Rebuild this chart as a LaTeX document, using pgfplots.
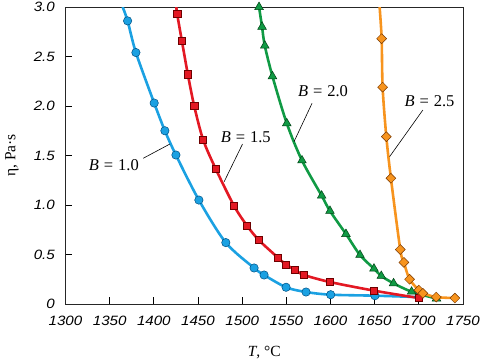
\documentclass[border=0pt]{standalone}
\usepackage{pgfplots}
\pgfplotsset{compat=1.18}
\usepackage{fontspec}
\setmainfont{Liberation Serif}
\newfontfamily\tickfont[FakeStretch=1.12]{Liberation Sans}
\definecolor{cblue}{RGB}{27,161,226}
\definecolor{cbluee}{RGB}{0,80,130}
\definecolor{cred}{RGB}{227,24,35}
\definecolor{crede}{RGB}{110,0,0}
\definecolor{cgreen}{RGB}{16,154,68}
\definecolor{cgreene}{RGB}{0,65,20}
\definecolor{corange}{RGB}{247,148,30}
\definecolor{corangee}{RGB}{120,55,0}
\begin{document}
\begin{tikzpicture}
\begin{axis}[
  name=ax,
  scale only axis,
  width=397.5bp, height=297bp,
  xmin=1300, xmax=1750, ymin=0, ymax=3,
  xtick={1300,1350,...,1750},
  ytick={0,0.5,1,1.5,2,2.5,3},
  yticklabels={0,0.5,1.0,1.5,2.0,2.5,3.0},
  tick align=inside,
  xtick pos=bottom, ytick pos=left,
  major tick length=7bp,
  tick style={black, line width=0.7pt},
  axis line style={line width=0.8pt, black!85},
  /pgf/number format/assume math mode=true,
  /pgf/number format/1000 sep={},
  ticklabel style={font=\tickfont\itshape\fontsize{13.5bp}{13.5bp}\selectfont, inner sep=0pt},
  xticklabel style={yshift=-12bp},
  yticklabel style={xshift=-10.5bp},
  xlabel={\textit{T}, °C},
  ylabel={η, Pa·s},
  xlabel style={at={(axis description cs:0.5,0)}, anchor=base, yshift=-52.7bp, inner sep=0pt, font=\fontsize{15.5bp}{15.5bp}\selectfont},
  ylabel style={at={(axis description cs:0,0.5)}, anchor=center, yshift=53.5bp, inner sep=0pt, font=\fontsize{15.5bp}{15.5bp}\selectfont},
  clip=true,
]
% B = 1.0
\addplot[cblue, line width=2.6bp, smooth, no marks] coordinates {
 (1364.7,3.0) (1370.3,2.86) (1379.7,2.54) (1400.4,2.03) (1412.5,1.75) (1425,1.505)
 (1451,1.05) (1481.5,0.62) (1513.5,0.364) (1524.8,0.293) (1549.7,0.169)
 (1572.3,0.121) (1600.2,0.094) (1650.3,0.084) (1700,0.07)};
\addplot[only marks, mark=*, mark size=4.2bp, mark options={fill=cblue, draw=cbluee, line width=0.5pt}] coordinates {
 (1370.3,2.86) (1379.7,2.54) (1400.4,2.03) (1412.5,1.75) (1425,1.505)
 (1451,1.05) (1481.5,0.62) (1513.5,0.364) (1524.8,0.293) (1549.7,0.169)
 (1572.3,0.121) (1600.2,0.094) (1650.3,0.084) (1700,0.07)};
% B = 1.5
\addplot[cred, line width=2.6bp, smooth, no marks] coordinates {
 (1425.5,3.0) (1426.4,2.93) (1431.7,2.66) (1438.5,2.32) (1445.7,2.0) (1455.8,1.66)
 (1469.8,1.37) (1490.9,0.99) (1505.6,0.79) (1518.8,0.646) (1540.3,0.47)
 (1549.3,0.40) (1559.5,0.347) (1570,0.293) (1599.4,0.222) (1649.2,0.135) (1700,0.06)};
\addplot[only marks, mark=square*, mark size=3.6bp, mark options={fill=cred, draw=crede, line width=0.5pt}] coordinates {
 (1426.4,2.93) (1431.7,2.66) (1438.5,2.32) (1445.7,2.0) (1455.8,1.66)
 (1469.8,1.37) (1490.9,0.99) (1505.6,0.79) (1518.8,0.646) (1540.3,0.47)
 (1549.3,0.40) (1559.5,0.347) (1570,0.293) (1599.4,0.222) (1649.2,0.135) (1700,0.06)};
% B = 2.0
\addplot[cgreen, line width=2.6bp, smooth, no marks] coordinates {
 (1519.1,3.0) (1522.5,2.80) (1525.6,2.61) (1534.3,2.30) (1550.5,1.825) (1567.7,1.45)
 (1590,1.094) (1599.4,0.94) (1617.5,0.707) (1633.4,0.495) (1649.2,0.357)
 (1657.5,0.283) (1671.4,0.209) (1691.8,0.124) (1720,0.055)};
\addplot[only marks, mark=triangle*, mark size=5bp, mark options={fill=cgreen, draw=cgreene, line width=0.5pt}] coordinates {
 (1519.1,3.0) (1522.5,2.80) (1525.6,2.61) (1534.3,2.30) (1550.5,1.825) (1567.7,1.45)
 (1590,1.094) (1599.4,0.94) (1617.5,0.707) (1633.4,0.495) (1649.2,0.357)
 (1657.5,0.283) (1671.4,0.209) (1691.8,0.124) (1720,0.055)};
% B = 2.5
\addplot[corange, line width=2.6bp, smooth, no marks] coordinates {
 (1655.6,3.0) (1657.9,2.68) (1659,2.19) (1663.2,1.69) (1668.4,1.27) (1679,0.55)
 (1683.1,0.42) (1689.5,0.25) (1700,0.14) (1704.6,0.108) (1719.7,0.07) (1740.8,0.06)};
\addplot[only marks, mark=square*, mark size=3.5bp, mark options={rotate=45, fill=corange, draw=corangee, line width=0.5pt}] coordinates {
 (1657.9,2.68) (1659,2.19) (1663.2,1.69) (1668.4,1.27) (1679,0.55)
 (1683.1,0.42) (1689.5,0.25) (1700,0.14) (1704.6,0.108) (1719.7,0.07) (1740.8,0.06)};
% labels
\draw[black, line width=0.6pt] (axis cs:1388,1.472) -- (axis cs:1418.2,1.616);
\draw[black, line width=0.6pt] (axis cs:1500.4,1.616) -- (axis cs:1479.6,1.235);
\draw[black, line width=0.6pt] (axis cs:1579.1,2.027) -- (axis cs:1558.7,1.64);
\draw[black, line width=0.6pt] (axis cs:1704.6,1.96) -- (axis cs:1666.9,1.488);
\node[font=\fontsize{16.5bp}{16.5bp}\selectfont, inner sep=0pt] at (axis cs:1354.8,1.404) {\textit{B}\hspace{0.3em}=\hspace{0.3em}1.0};
\node[font=\fontsize{16.5bp}{16.5bp}\selectfont, inner sep=0pt] at (axis cs:1504.1,1.69) {\textit{B}\hspace{0.3em}=\hspace{0.3em}1.5};
\node[font=\fontsize{16.5bp}{16.5bp}\selectfont, inner sep=0pt] at (axis cs:1591.5,2.155) {\textit{B}\hspace{0.3em}=\hspace{0.3em}2.0};
\node[font=\fontsize{16.5bp}{16.5bp}\selectfont, inner sep=0pt] at (axis cs:1712.1,2.054) {\textit{B}\hspace{0.3em}=\hspace{0.3em}2.5};
\end{axis}
\pgfresetboundingbox
\path ([xshift=-65.5bp,yshift=-59bp]ax.south west) rectangle ([xshift=20bp,yshift=7bp]ax.north east);
\end{tikzpicture}
\end{document}
